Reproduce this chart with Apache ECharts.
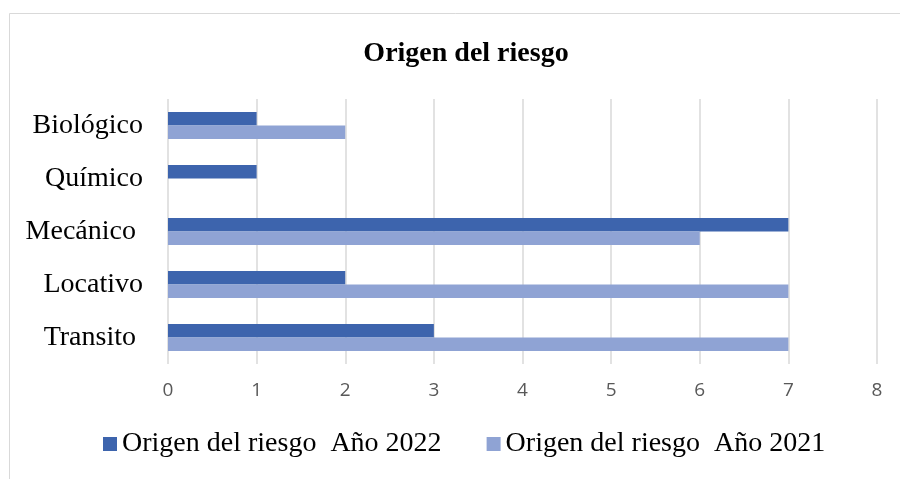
<!DOCTYPE html>
<html>
<head>
<meta charset="utf-8">
<script src="https://cdn.jsdelivr.net/npm/echarts@6/dist/echarts.min.js"></script>
<style>
  html, body { margin: 0; padding: 0; background: #fff; }
</style>
</head>
<body>
<div id="chart" style="width: 900px; height: 479px"></div>
<script>
// categorias de arriba hacia abajo
const categorias = ["Biológico", "Químico", "Mecánico ", "Locativo", "Transito "];
const valores2022 = [1, 1, 7, 2, 3];
const valores2021 = [2, 0, 6, 7, 7];
const nombres = ["Origen del riesgo  Año 2022", "Origen del riesgo  Año 2021"];

let myChart = echarts.init(document.getElementById("chart"));
myChart.setOption({
  backgroundColor: "#fff",
  graphic: [{
    type: "rect",
    left: 7, top: 11,
    shape: { x: 0.5, y: 0.5, width: 900, height: 480 },
    style: { fill: "none", stroke: "#d9d9d9", lineWidth: 1 },
  }],
  title: {
    text: "Origen del riesgo",
    left: 461, top: 35,
    textAlign: "center",
    textStyle: { fontFamily: "Liberation Serif", fontSize: 28, fontWeight: "bold", color: "#000" },
  },
  legend: {
    data: nombres,
    top: 430,
    left: 103,
    padding: 0,
    itemWidth: 14, itemHeight: 14,
    itemGap: 45,
    icon: "rect",
    textStyle: { fontFamily: "Liberation Serif", fontSize: 28, color: "#000" },
  },
  grid: { left: 168, right: 23, top: 99, bottom: 115 },
  xAxis: {
    type: "value",
    min: 0, max: 8, interval: 1,
    axisLine: { show: false },
    axisTick: { show: false },
    axisLabel: { fontFamily: "Open Sans", fontSize: 19, color: "#595959", margin: 17 },
    splitLine: { lineStyle: { color: "#d9d9d9", width: 1.5 } },
  },
  yAxis: {
    type: "category",
    data: categorias,
    inverse: true,
    axisLine: { show: false },
    axisTick: { show: false },
    axisLabel: { fontFamily: "Liberation Serif", fontSize: 28, color: "#000", margin: 25 },
  },
  series: [
    {
      name: nombres[0], type: "bar", data: valores2022,
      itemStyle: { color: "#3d64ad" },
      barWidth: 13.5, barGap: "0%",
    },
    {
      name: nombres[1], type: "bar", data: valores2021,
      itemStyle: { color: "#8fa3d4" },
      barWidth: 13.5, barGap: "0%",
    },
  ],
});
</script>
</body>
</html>
